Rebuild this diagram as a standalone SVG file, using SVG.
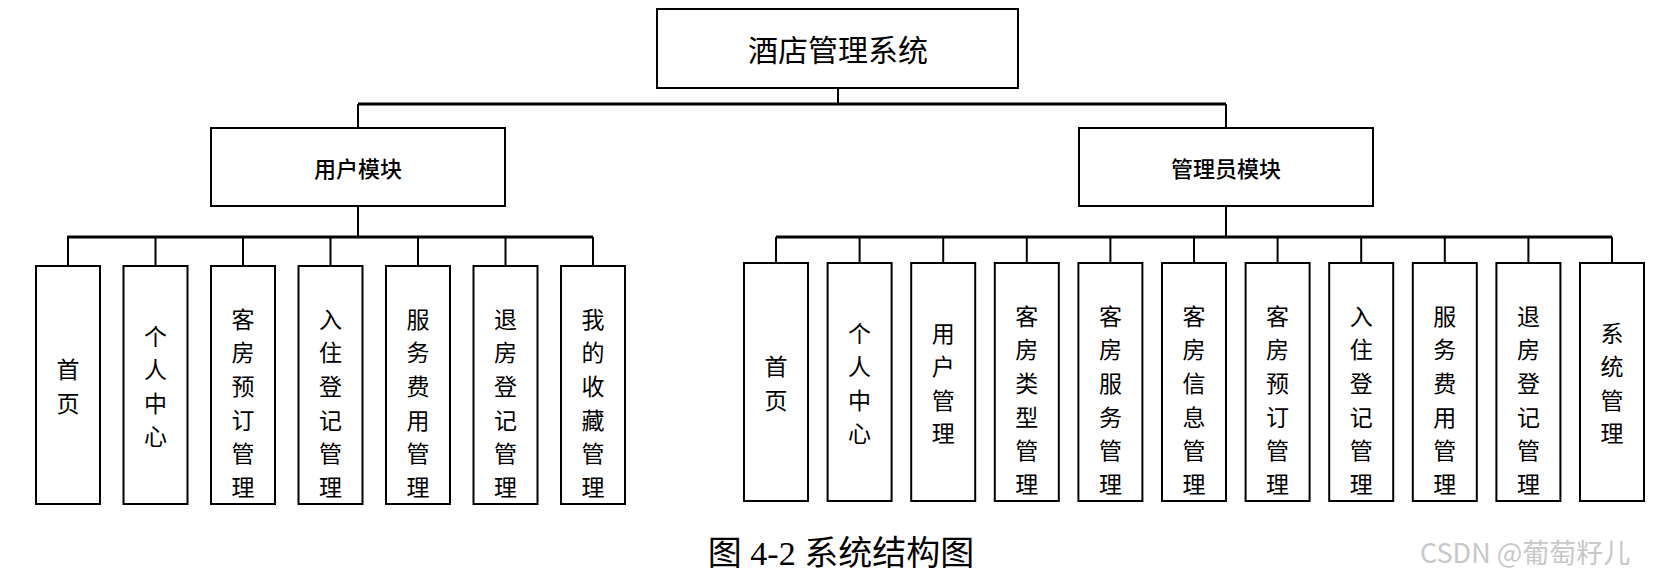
<svg xmlns="http://www.w3.org/2000/svg" width="1674" height="579" viewBox="0 0 1674 579">
<style>
.b{fill:#fff;stroke:#000;stroke-width:2}
.l{stroke:#000;stroke-width:2;fill:none}
.bus{stroke:#000;stroke-width:3;fill:none}
.t{font-family:"Noto Sans CJK SC",sans-serif;font-size:23px;text-anchor:middle;dominant-baseline:central}
</style>
<rect width="1674" height="579" fill="#fff"/>
<g id="connectors">
<path class="l" d="M838 88V104M358 104V128M1226 104V128M358 206V237M1226 206V237"/>
<path class="bus" d="M358 104H1226M67 237H593M776 237H1612"/>
<path class="l" d="M68 237V266M155.5 237V266M243 237V266M330.5 237V266M418 237V266M505.5 237V266M593 237V266"/>
<path class="l" d="M776 237V263M859.6 237V263M943.2 237V263M1026.8 237V263M1110.4 237V263M1194 237V263M1277.6 237V263M1361.2 237V263M1444.8 237V263M1528.4 237V263M1612 237V263"/>
</g>
<g id="root"><rect class="b" x="657" y="9" width="361" height="79"/><text class="t" x="838" y="48" style="font-size:30px">酒店管理系统</text></g>
<g id="user"><rect class="b" x="211" y="128" width="294" height="78"/><text class="t" x="358" y="167" style="font-size:22px;font-weight:500">用户模块</text></g>
<g id="admin"><rect class="b" x="1079" y="128" width="294" height="78"/><text class="t" x="1226" y="167" style="font-size:22px;font-weight:500">管理员模块</text></g>
<g id="u1"><rect class="b" x="36" y="266" width="64" height="238"/><text class="t" x="68" y="368.2"><tspan x="68">首</tspan><tspan x="68" dy="33.6">页</tspan></text></g>
<g id="u2"><rect class="b" x="123.5" y="266" width="64" height="238"/><text class="t" x="155.5" y="334.6"><tspan x="155.5">个</tspan><tspan x="155.5" dy="33.6">人</tspan><tspan x="155.5" dy="33.6">中</tspan><tspan x="155.5" dy="33.6">心</tspan></text></g>
<g id="u3"><rect class="b" x="211" y="266" width="64" height="238"/><text class="t" x="243" y="317.8"><tspan x="243">客</tspan><tspan x="243" dy="33.6">房</tspan><tspan x="243" dy="33.6">预</tspan><tspan x="243" dy="33.6">订</tspan><tspan x="243" dy="33.6">管</tspan><tspan x="243" dy="33.6">理</tspan></text></g>
<g id="u4"><rect class="b" x="298.5" y="266" width="64" height="238"/><text class="t" x="330.5" y="317.8"><tspan x="330.5">入</tspan><tspan x="330.5" dy="33.6">住</tspan><tspan x="330.5" dy="33.6">登</tspan><tspan x="330.5" dy="33.6">记</tspan><tspan x="330.5" dy="33.6">管</tspan><tspan x="330.5" dy="33.6">理</tspan></text></g>
<g id="u5"><rect class="b" x="386" y="266" width="64" height="238"/><text class="t" x="418" y="317.8"><tspan x="418">服</tspan><tspan x="418" dy="33.6">务</tspan><tspan x="418" dy="33.6">费</tspan><tspan x="418" dy="33.6">用</tspan><tspan x="418" dy="33.6">管</tspan><tspan x="418" dy="33.6">理</tspan></text></g>
<g id="u6"><rect class="b" x="473.5" y="266" width="64" height="238"/><text class="t" x="505.5" y="317.8"><tspan x="505.5">退</tspan><tspan x="505.5" dy="33.6">房</tspan><tspan x="505.5" dy="33.6">登</tspan><tspan x="505.5" dy="33.6">记</tspan><tspan x="505.5" dy="33.6">管</tspan><tspan x="505.5" dy="33.6">理</tspan></text></g>
<g id="u7"><rect class="b" x="561" y="266" width="64" height="238"/><text class="t" x="593" y="317.8"><tspan x="593">我</tspan><tspan x="593" dy="33.6">的</tspan><tspan x="593" dy="33.6">收</tspan><tspan x="593" dy="33.6">藏</tspan><tspan x="593" dy="33.6">管</tspan><tspan x="593" dy="33.6">理</tspan></text></g>
<g id="a1"><rect class="b" x="744" y="263" width="64" height="238"/><text class="t" x="776" y="365.2"><tspan x="776">首</tspan><tspan x="776" dy="33.6">页</tspan></text></g>
<g id="a2"><rect class="b" x="827.6" y="263" width="64" height="238"/><text class="t" x="859.6" y="331.6"><tspan x="859.6">个</tspan><tspan x="859.6" dy="33.6">人</tspan><tspan x="859.6" dy="33.6">中</tspan><tspan x="859.6" dy="33.6">心</tspan></text></g>
<g id="a3"><rect class="b" x="911.2" y="263" width="64" height="238"/><text class="t" x="943.2" y="331.6"><tspan x="943.2">用</tspan><tspan x="943.2" dy="33.6">户</tspan><tspan x="943.2" dy="33.6">管</tspan><tspan x="943.2" dy="33.6">理</tspan></text></g>
<g id="a4"><rect class="b" x="994.8" y="263" width="64" height="238"/><text class="t" x="1026.8" y="314.8"><tspan x="1026.8">客</tspan><tspan x="1026.8" dy="33.6">房</tspan><tspan x="1026.8" dy="33.6">类</tspan><tspan x="1026.8" dy="33.6">型</tspan><tspan x="1026.8" dy="33.6">管</tspan><tspan x="1026.8" dy="33.6">理</tspan></text></g>
<g id="a5"><rect class="b" x="1078.4" y="263" width="64" height="238"/><text class="t" x="1110.4" y="314.8"><tspan x="1110.4">客</tspan><tspan x="1110.4" dy="33.6">房</tspan><tspan x="1110.4" dy="33.6">服</tspan><tspan x="1110.4" dy="33.6">务</tspan><tspan x="1110.4" dy="33.6">管</tspan><tspan x="1110.4" dy="33.6">理</tspan></text></g>
<g id="a6"><rect class="b" x="1162" y="263" width="64" height="238"/><text class="t" x="1194" y="314.8"><tspan x="1194">客</tspan><tspan x="1194" dy="33.6">房</tspan><tspan x="1194" dy="33.6">信</tspan><tspan x="1194" dy="33.6">息</tspan><tspan x="1194" dy="33.6">管</tspan><tspan x="1194" dy="33.6">理</tspan></text></g>
<g id="a7"><rect class="b" x="1245.6" y="263" width="64" height="238"/><text class="t" x="1277.6" y="314.8"><tspan x="1277.6">客</tspan><tspan x="1277.6" dy="33.6">房</tspan><tspan x="1277.6" dy="33.6">预</tspan><tspan x="1277.6" dy="33.6">订</tspan><tspan x="1277.6" dy="33.6">管</tspan><tspan x="1277.6" dy="33.6">理</tspan></text></g>
<g id="a8"><rect class="b" x="1329.2" y="263" width="64" height="238"/><text class="t" x="1361.2" y="314.8"><tspan x="1361.2">入</tspan><tspan x="1361.2" dy="33.6">住</tspan><tspan x="1361.2" dy="33.6">登</tspan><tspan x="1361.2" dy="33.6">记</tspan><tspan x="1361.2" dy="33.6">管</tspan><tspan x="1361.2" dy="33.6">理</tspan></text></g>
<g id="a9"><rect class="b" x="1412.8" y="263" width="64" height="238"/><text class="t" x="1444.8" y="314.8"><tspan x="1444.8">服</tspan><tspan x="1444.8" dy="33.6">务</tspan><tspan x="1444.8" dy="33.6">费</tspan><tspan x="1444.8" dy="33.6">用</tspan><tspan x="1444.8" dy="33.6">管</tspan><tspan x="1444.8" dy="33.6">理</tspan></text></g>
<g id="a10"><rect class="b" x="1496.4" y="263" width="64" height="238"/><text class="t" x="1528.4" y="314.8"><tspan x="1528.4">退</tspan><tspan x="1528.4" dy="33.6">房</tspan><tspan x="1528.4" dy="33.6">登</tspan><tspan x="1528.4" dy="33.6">记</tspan><tspan x="1528.4" dy="33.6">管</tspan><tspan x="1528.4" dy="33.6">理</tspan></text></g>
<g id="a11"><rect class="b" x="1580" y="263" width="64" height="238"/><text class="t" x="1612" y="331.6"><tspan x="1612">系</tspan><tspan x="1612" dy="33.6">统</tspan><tspan x="1612" dy="33.6">管</tspan><tspan x="1612" dy="33.6">理</tspan></text></g>
<text x="841" y="565" text-anchor="middle" style="font-family:'Liberation Serif','Noto Sans CJK SC',serif;font-size:34px">图 4-2  系统结构图</text>
<text x="1420" y="563" style="font-family:'Noto Sans CJK SC',sans-serif;font-size:27px;fill:#c8c8c8">CSDN @葡萄籽儿</text>
</svg>
